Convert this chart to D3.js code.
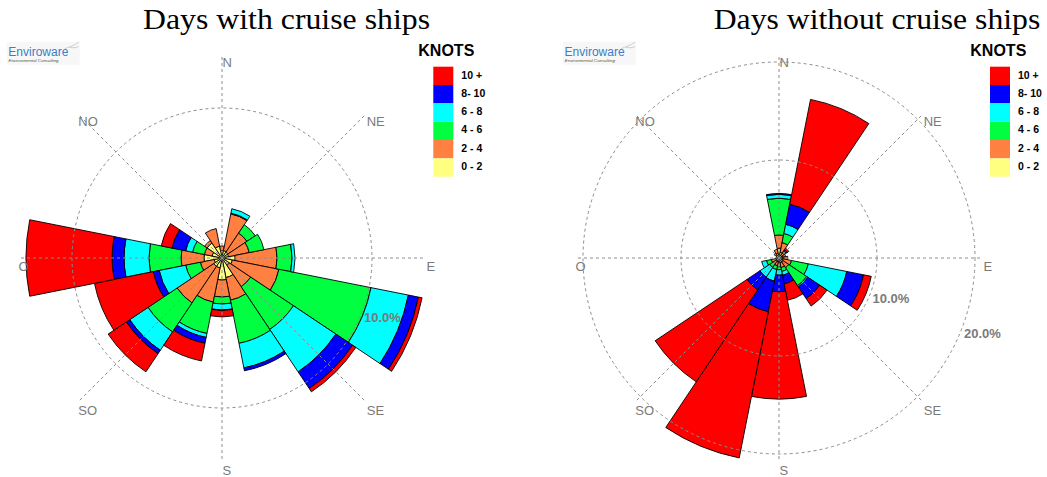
<!DOCTYPE html>
<html>
<head>
<meta charset="utf-8">
<script src="https://cdn.jsdelivr.net/npm/d3@7"></script>
<style>
  html, body { margin: 0; padding: 0; background: #fff; }
  svg { display: block; }
</style>
</head>
<body>
<svg id="chart" width="1047" height="477"></svg>
<script>
// 16-point compass sectors, clockwise from north
const directions = ["N","NNE","NE","ENE","E","ESE","SE","SSE","S","SSW","SW","WSW","W","WNW","NW","NNW"];
// Wind speed classes (knots), innermost first
const speedClasses = ["0 - 2","2 - 4","4 - 6","6 - 8","8- 10","10 +"];
// Compass labels drawn around each rose (every 45°)
const compassLabels = ["N","NE","E","SE","S","SO","O","NO"];

// Frequency (%) of each speed class per direction — days with cruise ships
const withShips0to2   = [0.50,0.50,0.50,0.45,0.87,0.70,0.60,1.33,1.47,0.67,0.67,0.53,1.20,0.67,1.20,0.80];
const withShips2to4   = [0.30,2.50,1.50,1.40,2.80,3.17,1.70,1.54,1.13,2.33,2.93,0.94,1.53,0.53,0.20,1.20];
const withShips4to6   = [0.00,0.05,0.67,1.00,1.00,6.26,3.43,2.93,0.47,2.13,2.33,1.00,2.14,0.80,0.00,0.00];
const withShips6to8   = [0.00,0.30,0.00,0.00,0.20,2.54,3.40,1.67,0.40,0.27,1.47,1.80,1.66,0.47,0.00,0.00];
const withShips8to10  = [0.00,0.00,0.00,0.00,0.00,0.68,1.34,0.20,0.03,0.40,0.27,0.40,0.80,0.93,0.00,0.00];
const withShips10plus = [0.00,0.00,0.00,0.00,0.00,0.25,0.26,0.00,0.43,1.20,1.46,4.00,5.74,0.73,0.00,0.00];
const withShipsTicks  = [10];

// Frequency (%) of each speed class per direction — days without cruise ships
const withoutShips0to2   = [1.00,0.60,0.30,0.40,0.40,0.40,0.50,0.50,0.40,0.40,0.40,0.30,0.30,0.30,0.40,0.50];
const withoutShips2to4   = [1.35,1.00,0.30,0.30,0.50,0.90,0.70,0.50,0.50,0.40,0.40,0.50,0.00,0.00,0.20,0.40];
const withoutShips4to6   = [3.75,0.95,0.20,0.00,0.00,1.75,2.20,0.40,0.30,0.40,0.35,0.50,0.00,0.00,0.00,0.00];
const withoutShips6to8   = [0.40,0.95,0.10,0.00,0.00,4.00,0.15,0.40,0.55,1.20,1.20,0.50,0.00,0.00,0.00,0.00];
const withoutShips8to10  = [0.10,2.10,0.10,0.00,0.00,1.75,1.45,0.90,1.70,3.20,1.58,0.00,0.00,0.00,0.00,0.00];
const withoutShips10plus = [0.00,10.90,0.20,0.00,0.00,0.80,0.90,1.70,10.95,15.20,11.27,0.00,0.00,0.00,0.00,0.00];
const withoutShipsTicks  = [10, 20];

// Fill colour for each speed class
const speedColors = ["#ffff80","#ff8040","#00ff40","#00ffff","#0000ff","#ff0000"];

const svg = d3.select("#chart");
const deg = Math.PI / 180;
const sectorWidth = 360 / directions.length;
const arcGen = d3.arc();
const gridColor = "#8c8c8c";
const labelColor = "#7a7a7a";

function drawRose(cfg) {
  const panel = svg.append("g");

  // Title
  panel.append("text")
    .attr("x", cfg.titleX).attr("y", 28.5)
    .attr("textLength", cfg.titleWidth).attr("lengthAdjust", "spacingAndGlyphs")
    .style("font-family", "'Liberation Serif','Times New Roman',serif")
    .style("font-size", "28.5px").attr("fill", "#000")
    .text(cfg.title);

  // Enviroware mark
  const logo = panel.append("g").attr("transform", `translate(${cfg.logoX},41.7)`);
  logo.append("rect").attr("width", 73).attr("height", 23).attr("fill", "#f7f7f7");
  logo.append("text").attr("x", 1.6).attr("y", 14)
    .style("font-family", "'Liberation Sans',Arial,sans-serif").style("font-size", "12px")
    .attr("fill", "#3d7cc9").text("Enviroware");
  logo.append("text").attr("x", 1.8).attr("y", 20.6)
    .style("font-family", "'Liberation Sans',Arial,sans-serif").style("font-size", "4.4px")
    .style("font-style", "italic").attr("fill", "#4a5a40").text("Environmental Consulting");
  logo.append("path")
    .attr("d", "M58,7 C63,5 67,4 72,0.5 M63,5.5 C66,6.5 69,6 72,5")
    .attr("fill", "none").attr("stroke", "#c8c8c8").attr("stroke-width", 0.9);

  const g = panel.append("g").attr("transform", `translate(${cfg.cx},${cfg.cy})`);
  const r = d3.scaleLinear().domain([0, cfg.maxPct]).range([0, cfg.maxRadius]);

  // Stack speed classes outward for every direction
  const rows = directions.map((dir, i) => {
    const row = { dir, index: i };
    speedClasses.forEach((k, j) => { row[k] = cfg.series[j][i]; });
    return row;
  });
  const layers = d3.stack().keys(speedClasses)(rows);

  layers.forEach((layer, j) => {
    g.append("g").selectAll("path")
      .data(layer.filter(d => d[1] - d[0] > 0))
      .join("path")
      .attr("d", d => arcGen({
        innerRadius: r(d[0]),
        outerRadius: r(d[1]),
        startAngle: (d.data.index * sectorWidth - sectorWidth / 2) * deg,
        endAngle: (d.data.index * sectorWidth + sectorWidth / 2) * deg
      }))
      .attr("fill", speedColors[j])
      .attr("stroke", "#000")
      .attr("stroke-width", 0.9)
      .attr("stroke-linejoin", "round");
  });

  // Grid: dashed compass axes and percentage rings, drawn over the bars
  const axisLen = 204;
  g.append("g").selectAll("line")
    .data(compassLabels)
    .join("line")
    .attr("x1", 0).attr("y1", 0)
    .attr("x2", (d, i) => axisLen * Math.sin(i * 45 * deg))
    .attr("y2", (d, i) => -axisLen * Math.cos(i * 45 * deg))
    .attr("stroke", gridColor).attr("stroke-width", 1)
    .attr("stroke-dasharray", "3,3");

  g.append("g").selectAll("circle")
    .data(cfg.ticks)
    .join("circle")
    .attr("r", d => r(d))
    .attr("fill", "none")
    .attr("stroke", gridColor).attr("stroke-width", 1)
    .attr("stroke-dasharray", "3,3");

  const ringAngle = 111 * deg;
  g.append("g").selectAll("text")
    .data(cfg.ticks)
    .join("text")
    .attr("x", d => r(d) * Math.sin(ringAngle) + 2)
    .attr("y", d => -r(d) * Math.cos(ringAngle) + 9.8)
    .style("font-family", "'Liberation Sans',Arial,sans-serif")
    .style("font-size", "13px").style("font-weight", "bold")
    .attr("fill", labelColor)
    .text(d => d3.format(".1f")(d) + "%");

  // Compass labels
  g.append("g").selectAll("text")
    .data(compassLabels)
    .join("text")
    .attr("x", (d, i) => axisLen * Math.sin(i * 45 * deg) + 0.5)
    .attr("y", (d, i) => -axisLen * Math.cos(i * 45 * deg) + 12.5)
    .style("font-family", "'Liberation Sans',Arial,sans-serif")
    .style("font-size", "13px")
    .attr("fill", labelColor)
    .text(d => d);

  // Legend
  const legend = panel.append("g");
  legend.append("text")
    .attr("x", cfg.knotsX).attr("y", 55.7)
    .style("font-family", "'Liberation Sans',Arial,sans-serif")
    .style("font-size", "16px").style("font-weight", "bold")
    .attr("fill", "#000").text("KNOTS");

  const legendOrder = speedClasses.slice().reverse();
  const band = d3.scaleBand().domain(legendOrder).range([66.7, 66.7 + 18.33 * 6]);
  legend.selectAll("rect")
    .data(legendOrder)
    .join("rect")
    .attr("x", cfg.swatchX).attr("y", d => band(d))
    .attr("width", 20).attr("height", band.bandwidth())
    .attr("fill", d => speedColors[speedClasses.indexOf(d)]);
  legend.selectAll("text.cls")
    .data(legendOrder)
    .join("text")
    .attr("class", "cls")
    .attr("x", cfg.swatchX + 28).attr("y", d => band(d) + 11.8)
    .style("font-family", "'Liberation Sans',Arial,sans-serif")
    .style("font-size", "10.5px").style("font-weight", "bold")
    .attr("fill", "#000").text(d => d);
}

drawRose({
  title: "Days with cruise ships", titleX: 143, titleWidth: 287,
  logoX: 6.7, knotsX: 418.3, swatchX: 433.3,
  cx: 222, cy: 258, maxPct: 10, maxRadius: 150,
  ticks: withShipsTicks,
  series: [withShips0to2, withShips2to4, withShips4to6, withShips6to8, withShips8to10, withShips10plus]
});

drawRose({
  title: "Days without cruise ships", titleX: 713.7, titleWidth: 326.6,
  logoX: 563, knotsX: 970.3, swatchX: 990,
  cx: 779, cy: 258, maxPct: 20, maxRadius: 196,
  ticks: withoutShipsTicks,
  series: [withoutShips0to2, withoutShips2to4, withoutShips4to6, withoutShips6to8, withoutShips8to10, withoutShips10plus]
});
</script>
</body>
</html>
